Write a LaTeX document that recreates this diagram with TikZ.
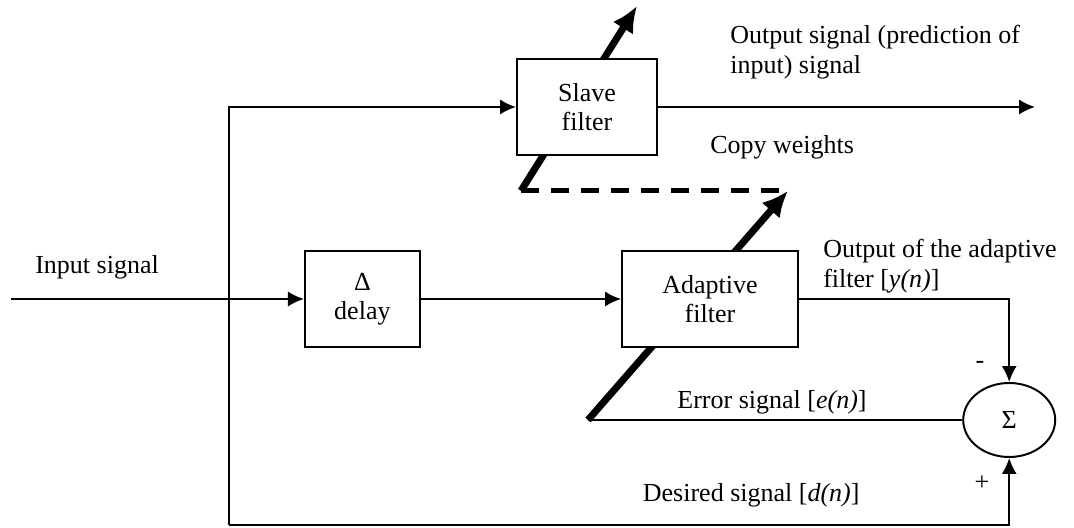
\documentclass[tikz,border=0pt]{standalone}
\usepackage{fontspec}
\setmainfont{Liberation Serif}
\usetikzlibrary{arrows.meta, positioning, shapes.geometric, calc}
\colorlet{colLinea}{black}
\colorlet{colTexto}{black}
\newcommand{\fuenteDiag}{\fontsize{18.5}{21}\selectfont}
\tikzset{
  cajaBase/.style={
    draw=colLinea, line width=1.4pt,
    minimum height=2.4cm, inner sep=0pt,
    align=center, font=\fuenteDiag, text=colTexto, fill=white
  },
  cajaFiltro/.style={cajaBase, minimum width=3.5cm},
  cajaRetardo/.style={cajaBase, minimum width=2.875cm},
  cajaAdaptiva/.style={cajaBase, minimum width=4.4cm},
  cajaSuma/.style={cajaBase, ellipse, minimum width=2.3cm, minimum height=1.85cm},
  linea/.style={line width=1.4pt, colLinea},
  flecha/.style={-{Latex[length=4mm, width=3.8mm]}, line width=1.4pt, colLinea},
  flechaPeso/.style={-{Latex[length=6.5mm, width=6mm]}, line width=5pt, colLinea},
  lineaCopia/.style={line width=3.5pt, colLinea, dash pattern=on 0.45cm off 0.3cm},
  etiqueta/.style={font=\fuenteDiag, text=colTexto, inner sep=0pt},
}

\begin{document}
\begin{tikzpicture}
    \useasboundingbox (0,0) rectangle (26.85,13.2);
    % puntos libres
    \coordinate (in) at (0.275,5.725);
    \coordinate (bottom) at (5.725,0.075);
    \coordinate (out) at (25.875,10.525);
    \coordinate (errEnd) at (14.7,2.7);
    \coordinate (copyTail) at (13.025,8.43);
    \coordinate (copyHead) at (19.7,8.43);
    \coordinate (slaveTip) at (15.925,13.05);
    % pesos (detras de los bloques)
    \draw[lineaCopia] (copyTail) -- (copyHead);
    \draw[flechaPeso] (errEnd) -- (copyHead);
    \draw[flechaPeso] (copyTail) -- (slaveTip);
    % bloques
    \node[cajaFiltro] (slave) at (14.675,10.525) {Slave\\filter};
    \node[cajaRetardo] (delay) at (9.06,5.725) {Δ\\delay};
    \node[cajaAdaptiva] (adapt) at (17.75,5.725) {Adaptive\\filter};
    \node[cajaSuma] (sum) at (25.23,2.7) {Σ};
    % senales
    \draw[flecha] (in) -- (delay);
    \draw[flecha] (bottom) |- (slave.west);
    \draw[flecha] (bottom) -| (sum.south);
    \draw[flecha] (delay) -- (adapt);
    \draw[flecha] (slave) -- (out);
    \draw[flecha] (adapt) -| (sum.north);
    \draw[linea] (sum.west) -- (errEnd);
    % etiquetas
    \node[etiqueta, anchor=west] (lblIn) at (0.875,6.525) {Input signal};
    \node[etiqueta, anchor=west, align=left] (lblOut) at (18.25,11.89)
      {Output signal (prediction of\\input) signal};
    \node[etiqueta, anchor=west] (lblCopy) at (17.75,9.525) {Copy weights};
    \node[etiqueta, anchor=west, align=left] (lblY) at (20.575,6.55)
      {Output of the adaptive\\filter [\textit{y(n)}]};
    \node[etiqueta] (lblE) at (19.3,3.15) {Error signal [\textit{e(n)}]};
    \node[etiqueta] (lblD) at (18.78,0.82) {Desired signal [\textit{d(n)}]};
    \node[etiqueta] (lblMinus) at (24.5,4.075) {-};
    \node[etiqueta] (lblPlus) at (24.55,1.12) {+};
\end{tikzpicture}
\end{document}
